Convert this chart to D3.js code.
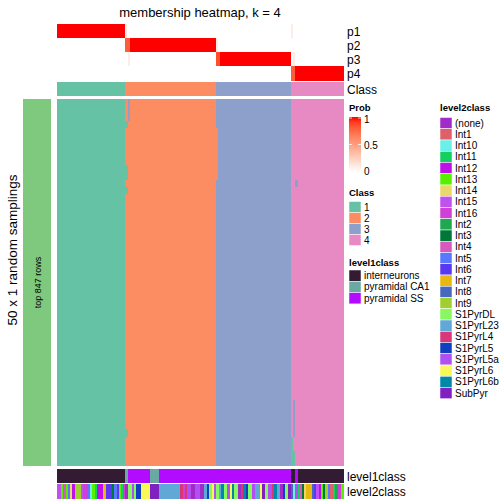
<!DOCTYPE html>
<html><head><meta charset="utf-8">
<script src="https://cdn.jsdelivr.net/npm/d3@7"></script>
<style>body{margin:0;background:#fff}svg{display:block}text{font-family:"Liberation Sans",Arial,Helvetica,sans-serif}</style>
</head><body><svg id="c" width="504" height="504"></svg>
<script>
// ---------- DATA ----------
const classes = ["1","2","3","4"];
const classColors = ["#66C2A5","#FC8D62","#8DA0CB","#E78AC3"];
// consensus class per sample, as runs [class, count]
const classRuns = [["1",68],["2",91],["3",75],["4",52]];
// membership probabilities, runs [prob, count]
const p1Runs = [[1,68],[0.12,2],[0,164],[0.1,2],[0,50]];
const p2Runs = [[0,68],[0.8,5],[1,86],[0.1,2],[0,125]];
const p3Runs = [[0,71],[0.1,2],[0,86],[0.85,4],[1,71],[0,2],[0.1,2],[0,48]];
const p4Runs = [[0,234],[0.8,4],[1,48]];
const probRows = ["p1","p2","p3","p4"];
const nSamplings = 50;
// deviations in random samplings: [rowStart,rowEnd,colStart,colEnd,class]
const deviations = [
  [0,3,71,73,"3"],[3,4,68,71,"1"],[4,11,159,161,"2"],[9,11,68,71,"1"],
  [11,12,238,241,"3"],[12,13,68,71,"1"],[41,46,236,238,"3"],
  [45,46,68,71,"1"],[46,50,234,236,"1"],[48,50,236,238,"1"]
];
const level1Names = ["interneurons","pyramidal CA1","pyramidal SS"];
const level1Colors = ["#331B33","#6AA8A3","#B20BFF"];
const level1Runs = [["interneurons",68],["pyramidal CA1",3],["pyramidal SS",22],["pyramidal CA1",9],
  ["pyramidal SS",132],["interneurons",4],["pyramidal SS",3],["interneurons",45]];
const level2Names = ["(none)","Int1","Int10","Int11","Int12","Int13","Int14","Int15","Int16","Int2","Int3","Int4","Int5","Int6","Int7","Int8","Int9","S1PyrDL","S1PyrL23","S1PyrL4","S1PyrL5","S1PyrL5a","S1PyrL6","S1PyrL6b","SubPyr"];
const level2Colors = ["#A02BC8","#E0606A","#6AF0E8","#14D060","#C010E8","#58F000","#ECD868","#C050F0","#D040D8","#20A850","#007838","#D858C0","#5878FF","#5838F0","#E8B810","#4868C0","#A0D030","#88F860","#60A8D8","#D83878","#1040C0","#B050F0","#F8F858","#0088A8","#8020C0"];
const level2Runs = [
 ["Int15",4],["Int13",2],["Int4",3],["Int13",2],["Int5",2],["Int14",2],["Int12",3],["Int9",6],["Int15",2],["Int16",5],["Int5",2],["Int10",2],["Int13",3],["Int11",2],["Int12",6],["Int7",3],["Int6",6],["Int3",2],["Int5",3],["Int6",2],["Int13",2],["Int11",2],["Int16",2],
 ["(none)",3],["S1PyrDL",4],["S1PyrL5a",2],["S1PyrDL",2],["S1PyrL5",5],["S1PyrL6",9],["SubPyr",9],
 ["S1PyrL23",21],["S1PyrL4",3],["Int16",2],["S1PyrL4",2],["S1PyrL5a",4],["(none)",4],["S1PyrL5a",5],["(none)",4],["S1PyrL23",3],["S1PyrL5",2],["S1PyrDL",3],["S1PyrL6",2],["S1PyrL5a",2],
 ["S1PyrDL",3],["S1PyrL23",2],["S1PyrL6b",3],["S1PyrDL",3],["S1PyrL5a",3],["S1PyrL6",2],["S1PyrL6b",2],["S1PyrDL",4],["(none)",3],["S1PyrL4",2],["S1PyrL6b",3],["S1PyrL5",2],["S1PyrDL",4],["S1PyrL5a",3],["S1PyrL23",5],["S1PyrL6",2],["SubPyr",3],["S1PyrDL",3],["S1PyrL5a",4],["S1PyrL4",2],["S1PyrL6b",3],["S1PyrL23",3],["(none)",3],["S1PyrL5",2],["S1PyrDL",3],["SubPyr",3],
 ["Int8",2],["Int10",2],["S1PyrL5a",3],["Int11",2],["Int4",2],["Int3",2],["Int14",2],["Int7",6],["Int8",2],["Int6",2],["Int15",3],["Int12",2],["Int13",2],["Int3",2],["Int9",3],["Int5",2],["Int1",3],["Int11",2],["Int2",3],["Int16",3],["Int13",2]
];
const probTicks = [0,0.5,1];

// ---------- HELPERS ----------
function expand(runs){const o=[];let s=0;runs.forEach(([v,n])=>{o.push({v,start:s,end:s+n});s+=n;});return o;}
const nCols = d3.sum(classRuns,d=>d[1]);
const svg = d3.select("#c");
const x = d3.scaleLinear().domain([0,nCols]).range([57,343.5]);
const classColor = d3.scaleOrdinal(classes,classColors);
const probColor = d3.scaleLinear().domain([0,1]).range(["#FFFFFF","#FF0000"]).interpolate(d3.interpolateLab);
const l1Color = d3.scaleOrdinal(level1Names,level1Colors);
const l2Color = d3.scaleOrdinal(level2Names,level2Colors);

// title
svg.append("text").attr("x",200).attr("y",17).attr("text-anchor","middle").attr("font-size",13).text("membership heatmap, k = 4");

// probability rows
const yProb = d3.scaleBand().domain(probRows).range([24,80.5]);
[p1Runs,p2Runs,p3Runs,p4Runs].forEach((runs,i)=>{
  svg.append("g").selectAll("rect").data(expand(runs)).join("rect")
    .attr("x",d=>x(d.start)).attr("width",d=>x(d.end)-x(d.start))
    .attr("y",yProb(probRows[i])).attr("height",yProb.bandwidth())
    .attr("fill",d=>probColor(d.v)).attr("shape-rendering","crispEdges");
  svg.append("text").attr("x",347).attr("y",yProb(probRows[i])+yProb.bandwidth()/2+4.5).attr("font-size",12).text(probRows[i]);
});
// class bar
svg.append("g").selectAll("rect").data(expand(classRuns)).join("rect")
  .attr("x",d=>x(d.start)).attr("width",d=>x(d.end)-x(d.start)).attr("y",82).attr("height",14)
  .attr("fill",d=>classColor(d.v)).attr("shape-rendering","crispEdges");
svg.append("text").attr("x",347).attr("y",93.5).attr("font-size",12).text("Class");

// main body
const yRow = d3.scaleLinear().domain([0,nSamplings]).range([99,466]);
svg.append("g").selectAll("rect").data(expand(classRuns)).join("rect")
  .attr("x",d=>x(d.start)).attr("width",d=>x(d.end)-x(d.start)).attr("y",yRow(0)).attr("height",yRow(nSamplings)-yRow(0))
  .attr("fill",d=>classColor(d.v)).attr("shape-rendering","crispEdges");
svg.append("g").selectAll("rect").data(deviations).join("rect")
  .attr("x",d=>x(d[2])).attr("width",d=>x(d[3])-x(d[2])).attr("y",d=>yRow(d[0])).attr("height",d=>yRow(d[1])-yRow(d[0]))
  .attr("fill",d=>classColor(d[4])).attr("shape-rendering","crispEdges");

// left annotation
svg.append("rect").attr("x",23).attr("y",99).attr("width",28).attr("height",367).attr("fill","#7FC97F");
svg.append("text").attr("transform","translate(40.5,282.5) rotate(-90)").attr("text-anchor","middle").attr("font-size",9).text("top 847 rows");
svg.append("text").attr("transform","translate(16.5,250) rotate(-90)").attr("text-anchor","middle").attr("font-size",13.5).text("50 x 1 random samplings");

// bottom annotations
svg.append("g").selectAll("rect").data(expand(level1Runs)).join("rect")
  .attr("x",d=>x(d.start)).attr("width",d=>x(d.end)-x(d.start)).attr("y",469).attr("height",14)
  .attr("fill",d=>l1Color(d.v)).attr("shape-rendering","crispEdges");
svg.append("g").selectAll("rect").data(expand(level2Runs)).join("rect")
  .attr("x",d=>x(d.start)).attr("width",d=>x(d.end)-x(d.start)).attr("y",484).attr("height",15)
  .attr("fill",d=>l2Color(d.v)).attr("shape-rendering","crispEdges");
svg.append("text").attr("x",347).attr("y",480.5).attr("font-size",12).text("level1class");
svg.append("text").attr("x",347).attr("y",496).attr("font-size",12).text("level2class");

// legends
const lg = svg.append("g");
lg.append("text").attr("x",349).attr("y",111).attr("font-size",9.5).attr("font-weight","bold").text("Prob");
const defs = svg.append("defs");
const grad = defs.append("linearGradient").attr("id","pg").attr("x1",0).attr("y1",1).attr("x2",0).attr("y2",0);
d3.range(0,1.01,0.1).forEach(t=>grad.append("stop").attr("offset",t).attr("stop-color",probColor(t)));
const yLeg = d3.scaleLinear().domain([0,1]).range([172,117]);
lg.append("rect").attr("x",349).attr("y",yLeg(1)).attr("width",12).attr("height",yLeg(0)-yLeg(1)).attr("fill","url(#pg)");
probTicks.forEach(t=>{
  const yy = yLeg(t)+(t===1?1:0);
  lg.append("line").attr("x1",349).attr("x2",352).attr("y1",yy).attr("y2",yy).attr("stroke","#fff").attr("stroke-width",0.8);
  lg.append("line").attr("x1",358).attr("x2",361).attr("y1",yy).attr("y2",yy).attr("stroke","#fff").attr("stroke-width",0.8);
  lg.append("text").attr("x",364).attr("y",yLeg(t)+(t===0?3:4)+(t===1?2:0)).attr("font-size",10).text(t===0.5?"0.5":String(t));
});
lg.append("text").attr("x",349).attr("y",196).attr("font-size",9.5).attr("font-weight","bold").text("Class");
classes.forEach((c,i)=>{
  lg.append("rect").attr("x",349).attr("y",201.5+i*11).attr("width",12).attr("height",11).attr("fill",classColor(c)).attr("stroke","#fff").attr("stroke-width",0.5);
  lg.append("text").attr("x",364).attr("y",210.5+i*11).attr("font-size",10).text(c);
});
lg.append("text").attr("x",349).attr("y",265.5).attr("font-size",9.5).attr("font-weight","bold").text("level1class");
level1Names.forEach((c,i)=>{
  lg.append("rect").attr("x",349).attr("y",270+i*11.3).attr("width",12).attr("height",11.3).attr("fill",l1Color(c)).attr("stroke","#fff").attr("stroke-width",0.5);
  lg.append("text").attr("x",364).attr("y",279+i*11.3).attr("font-size",10).text(c);
});
lg.append("text").attr("x",440).attr("y",111).attr("font-size",9.5).attr("font-weight","bold").text("level2class");
level2Names.forEach((c,i)=>{
  lg.append("rect").attr("x",440).attr("y",117.5+i*11.25).attr("width",12).attr("height",11.25).attr("fill",l2Color(c)).attr("stroke","#fff").attr("stroke-width",0.5);
  lg.append("text").attr("x",455).attr("y",126.5+i*11.25).attr("font-size",10).text(c);
});
</script></body></html>
